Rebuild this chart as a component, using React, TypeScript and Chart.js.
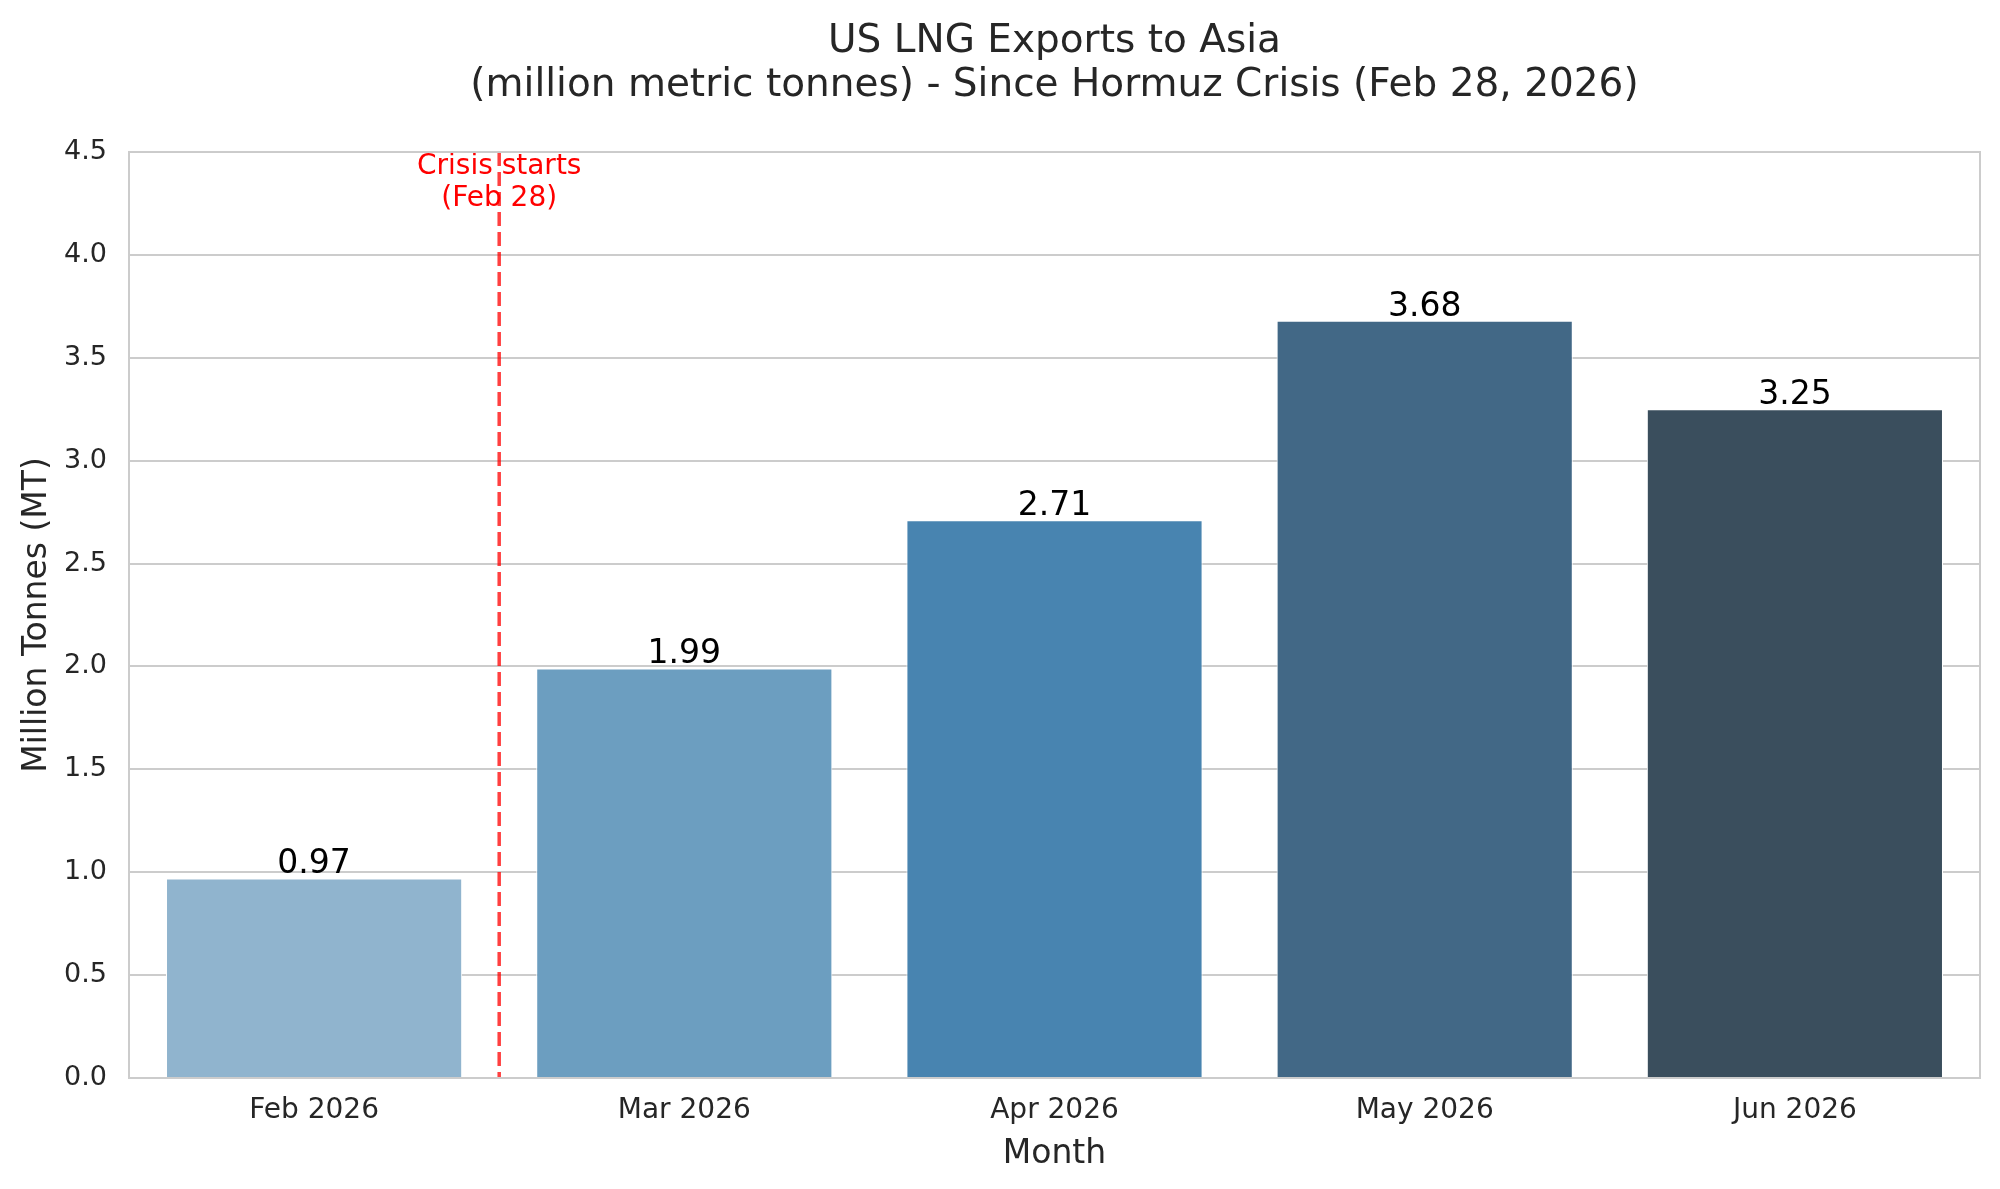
import React, { useEffect, useRef } from "react";
import { Chart, registerables } from "chart.js";

Chart.register(...registerables);

const months = ["Feb 2026", "Mar 2026", "Apr 2026", "May 2026", "Jun 2026"];
const exportVolumes = [0.97, 1.99, 2.71, 3.68, 3.25];
const barColors = ["#90b4ce", "#6c9ec0", "#4884b0", "#426886", "#3a4e5d"];
const yMin = 0;
const yMax = 4.5;
const yStep = 0.5;
// the crisis marker sits halfway between Feb and Mar (category index 0.5)
const crisisIndex = 0.5;
const crisisLabelValue = 4.35;
const crisisLabel = ["Crisis starts", "(Feb 28)"];

const FONT = "'DejaVu Sans', Verdana, sans-serif";
const TEXT = "#262626";
const GRID = "#cccccc";

const overlayPlugin = {
	id: "overlay",
	afterDatasetsDraw(chart: any) {
		const { ctx, chartArea, scales } = chart;
		ctx.save();

		// value labels above bars
		const meta = chart.getDatasetMeta(0);
		ctx.font = `33px ${FONT}`;
		ctx.fillStyle = "#000000";
		ctx.textAlign = "center";
		ctx.textBaseline = "alphabetic";
		meta.data.forEach((bar: any, i: number) => {
			ctx.fillText(exportVolumes[i].toFixed(2), bar.x, bar.y - 5);
		});

		// crisis line
		const x = scales.x.getPixelForValue(crisisIndex);
		ctx.strokeStyle = "rgba(255, 0, 0, 0.75)";
		ctx.lineWidth = 3.5;
		ctx.setLineDash([14, 6]);
		ctx.beginPath();
		ctx.moveTo(x, chartArea.top);
		ctx.lineTo(x, chartArea.bottom);
		ctx.stroke();
		ctx.setLineDash([]);

		// crisis label
		const yMid = scales.y.getPixelForValue(crisisLabelValue);
		ctx.font = `28px ${FONT}`;
		ctx.fillStyle = "#ff0000";
		ctx.textBaseline = "middle";
		const lh = 32;
		crisisLabel.forEach((line, i) => {
			ctx.fillText(line, x, yMid + (i - (crisisLabel.length - 1) / 2) * lh);
		});

		// frame (right and top spines)
		ctx.strokeStyle = GRID;
		ctx.lineWidth = 2;
		ctx.strokeRect(chartArea.left, chartArea.top, chartArea.right - chartArea.left, chartArea.bottom - chartArea.top);
		ctx.restore();
	},
};

const App: React.FC = () => {
	const chartRef = useRef<HTMLCanvasElement>(null);
	const chartInstance = useRef<Chart | null>(null);

	useEffect(() => {
		document.body.style.margin = "0";
		document.body.style.overflow = "hidden";
		if (!chartRef.current) return;
		if (chartInstance.current) chartInstance.current.destroy();

		chartInstance.current = new Chart(chartRef.current, {
			type: "bar",
			data: {
				labels: months,
				datasets: [
					{
						label: "US LNG Exports",
						data: exportVolumes,
						backgroundColor: barColors,
						borderColor: "#ffffff",
						borderWidth: 1,
						categoryPercentage: 1,
						barPercentage: 0.8,
					},
				],
			},
			options: {
				responsive: false,
				animation: false,
				devicePixelRatio: 1,
				layout: { padding: { left: 0, right: 20, top: 0, bottom: 0 } },
				plugins: {
					legend: { display: false },
					tooltip: { enabled: false },
					title: {
						display: true,
						fullSize: false,
						text: ["US LNG Exports to Asia", "(million metric tonnes) - Since Hormuz Crisis (Feb 28, 2026)"],
						color: TEXT,
						font: { family: FONT, size: 39, weight: "normal", lineHeight: 1.128 },
						padding: { top: 20, bottom: 44 },
					},
				},
				scales: {
					x: {
						grid: { display: false, drawTicks: false },
						border: { display: true, color: GRID, width: 2 },
						ticks: {
							color: TEXT,
							font: { family: FONT, size: 28 },
							padding: 16,
							maxRotation: 0,
						},
						title: {
							display: true,
							text: "Month",
							color: TEXT,
							font: { family: FONT, size: 33 },
							padding: { top: 0, bottom: 15 },
						},
						afterFit: (scale: any) => {
							scale.height = 111;
						},
					},
					y: {
						min: yMin,
						max: yMax,
						grid: { color: GRID, lineWidth: 2, drawTicks: false },
						border: { display: true, color: GRID, width: 2 },
						ticks: {
							stepSize: yStep,
							color: TEXT,
							font: { family: FONT, size: 27 },
							padding: 22,
							callback: (v: any) => Number(v).toFixed(1),
						},
						title: {
							display: true,
							text: "Million Tonnes (MT)",
							color: TEXT,
							font: { family: FONT, size: 33 },
							padding: { top: 18, bottom: 0 },
						},
						afterFit: (scale: any) => {
							scale.width = 129;
						},
					},
				},
			},
			plugins: [overlayPlugin],
		});

		return () => {
			if (chartInstance.current) {
				chartInstance.current.destroy();
				chartInstance.current = null;
			}
		};
	}, []);

	return (
		<div style={{ width: 2000, height: 1189, background: "#ffffff" }}>
			<canvas ref={chartRef} width={2000} height={1189} style={{ display: "block" }}></canvas>
		</div>
	);
};

export default App;
